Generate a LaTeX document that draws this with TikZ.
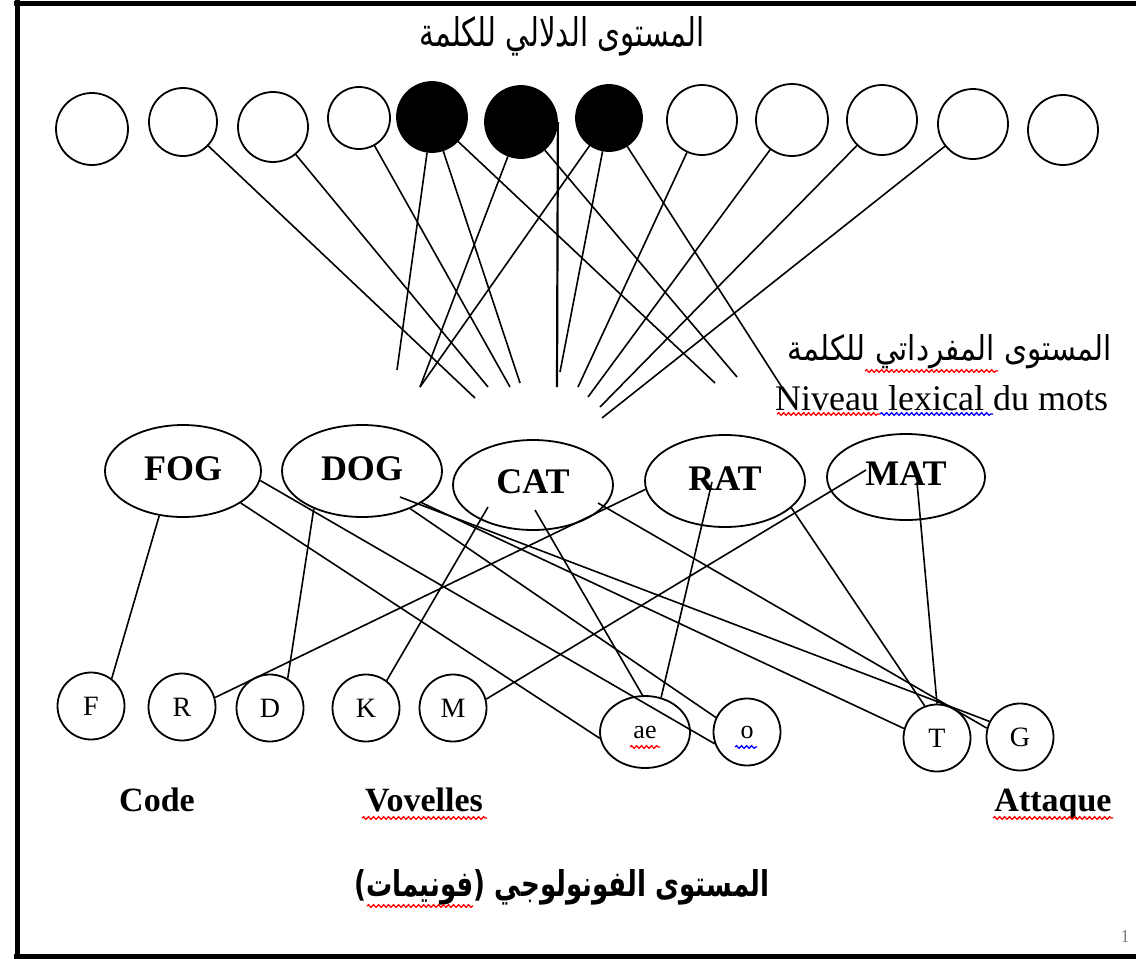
\documentclass[tikz,border=0pt]{standalone}
\usepackage{fontspec}
\setmainfont{Liberation Serif}
\newfontfamily\arabicfont[Script=Arabic]{DejaVu Sans}
\TeXXeTstate=1
\usetikzlibrary{shapes.geometric,decorations.pathmorphing}
\tikzset{
  semcircle/.style={circle, draw, line width=1.8pt, inner sep=0pt},
  semfill/.style={semcircle, fill=black},
  wordell/.style={ellipse, draw, line width=1.8pt, inner sep=0pt, font=\fontsize{36}{40}\selectfont\bfseries},
  phonc/.style={circle, draw, line width=1.8pt, inner sep=0pt, minimum size=67pt, font=\fontsize{28}{30}\selectfont},
  conn/.style={line width=1.6pt},
  framel/.style={line width=5pt},
  wavyred/.style={draw=red, line width=1.3pt, decorate, decoration={snake, amplitude=1.3pt, segment length=5pt}},
  wavyblue/.style={wavyred, draw=blue},
  catlabel/.style={anchor=base, font=\fontsize{34}{40}\selectfont\bfseries},
}
\begin{document}
\begin{tikzpicture}[x=1pt,y=-1pt]
\useasboundingbox (0,0) rectangle (1136,959);
\fill[white] (0,0) rectangle (1136,959);
% frame
\draw[framel] (17,0) -- (17,959);
\draw[framel] (14,3) -- (1136,3);
\draw[framel] (14,956) -- (1136,956);

% semantic level title
\node (tsem) at (562,36) {\resizebox{285pt}{30pt}{\arabicfont\beginR المستوى الدلالي للكلمة\endR}};

% semantic circles
\node[semcircle, minimum size=72pt] (c1) at (92,129) {};
\node[semcircle, minimum size=68pt] (c2) at (183,122) {};
\node[semcircle, minimum size=70pt] (c3) at (273,127) {};
\node[semcircle, minimum size=62pt] (c4) at (359,118) {};
\node[semfill, minimum size=70pt] (c5) at (432,117) {};
\node[semfill, minimum size=72pt] (c6) at (521,122) {};
\node[semfill, minimum size=66pt] (c7) at (609,118) {};
\node[semcircle, minimum size=70pt] (c8) at (702,120) {};
\node[semcircle, minimum size=72pt] (c9) at (792,120) {};
\node[semcircle, minimum size=70pt] (c10) at (882,120) {};
\node[semcircle, minimum size=70pt] (c11) at (973,124) {};
\node[semcircle, minimum size=70pt] (c12) at (1063,130) {};

% free ends of the semantic connectors
\coordinate (e1) at (475,398);
\coordinate (e2) at (488,387);
\coordinate (e3) at (510,387);
\coordinate (e4) at (397,370);
\coordinate (e5) at (520,383);
\coordinate (e6) at (715,383);
\coordinate (e7) at (420,387);
\coordinate (e8) at (557,387);
\coordinate (e9) at (737,377);
\coordinate (e10) at (560,372);
\coordinate (e11) at (785,392);
\coordinate (e12) at (578,387);
\coordinate (e13) at (588,397);
\coordinate (e14) at (600,407);
\coordinate (e15) at (602,418);

\draw[conn] (c2) -- (e1);
\draw[conn] (c3) -- (e2);
\draw[conn] (c4) -- (e3);
\draw[conn] (c5) -- (e4);
\draw[conn] (c5) -- (e5);
\draw[conn] (c5) -- (e6);
\draw[conn] (c6) -- (e7);
\draw[conn, line width=2.2pt] (c6.east) -- (e8);
\draw[conn] (c6) -- (e9);
\draw[conn] (c7) -- (e7);
\draw[conn] (c7) -- (e10);
\draw[conn] (c7) -- (e11);
\draw[conn] (c8) -- (e12);
\draw[conn] (c9) -- (e13);
\draw[conn] (c10) -- (e14);
\draw[conn] (c11) -- (e15);

% lexical level titles
\node (tlexar) at (950,352) {\resizebox{324pt}{26pt}{\arabicfont\beginR المستوى المفرداتي للكلمة\endR}};
\node[anchor=base west, font=\fontsize{36}{40}\selectfont, inner sep=0pt] (tlexfr) at (775,410) {Niveau lexical du mots};
\draw[wavyred] (865,371) -- (998,371);
\draw[wavyred] (777,414) -- (880,414);
\draw[wavyblue] (880,414) -- (993,414);

% lexical ellipses
\node[wordell, minimum width=156pt, minimum height=92pt] (fog) at (183,471) {\raisebox{5pt}{FOG}};
\node[wordell, minimum width=160pt, minimum height=92pt] (dog) at (362,471) {\raisebox{5pt}{DOG}};
\node[wordell, minimum width=160pt, minimum height=90pt] (cat) at (533,485) {\raisebox{6pt}{CAT}};
\node[wordell, minimum width=160pt, minimum height=92pt] (rat) at (725,481) {\raisebox{4pt}{RAT}};
\node[wordell, minimum width=158pt, minimum height=86pt] (mat) at (906,477) {\raisebox{6pt}{MAT}};

% phoneme circles
\node[phonc] (pF) at (91,706) {F};
\node[phonc] (pR) at (182,707) {R};
\node[phonc] (pD) at (270,708) {D};
\node[phonc] (pK) at (366,708) {K};
\node[phonc] (pM) at (453,708) {M};
\node[ellipse, draw, line width=1.8pt, inner sep=0pt, minimum width=90pt, minimum height=72pt, font=\fontsize{26}{30}\selectfont] (pae) at (645,732) {\raisebox{-5pt}{ae}};
\node[phonc, font=\fontsize{26}{30}\selectfont] (po) at (747,732) {\raisebox{-4pt}{o}};
\node[phonc] (pT) at (937,738) {T};
\node[phonc] (pG) at (1020,737) {G};
\draw[wavyred] (630,747) -- (660,747);
\draw[wavyblue] (735,747) -- (757,747);

% inner start points of lexical connectors
\coordinate (sdog1) at (400,497);
\coordinate (scat1) at (598,503);
\coordinate (scat2) at (488,507);
\coordinate (scat3) at (535,510);
\coordinate (srat1) at (712,482);
\coordinate (smat1) at (866,470);
\coordinate (smat2) at (917,482);

% lexical -> phoneme connectors
\draw[conn] (fog.-118) -- (pF.53);
\draw[conn] (fog.-7) -- (po.-160);
\draw[conn] (fog.-29) -- (pae.-172);
\draw[conn] (dog.-142) -- (pD.59);
\draw[conn] (sdog1) -- (pG.153);
\draw[conn] (dog.-38) -- (po.155);
\draw[conn] (dog.-28) -- (pT.164);
\draw[conn] (scat1) -- (pG.165);
\draw[conn] (scat2) -- (pK.53);
\draw[conn] (scat3) -- (pae.94);
\draw[conn] (rat.-174) -- (pR.16);
\draw[conn] (srat1) -- (pae.65);
\draw[conn] (rat.-22) -- (pT.111);
\draw[conn] (smat1) -- (pM.15);
\draw[conn] (smat2) -- (pT.90);

% phonological level labels
\node[catlabel] (lcode) at (157,811) {Code};
\node[catlabel] (lvov) at (424,811) {Vovelles};
\node[catlabel] (latt) at (1053,811) {Attaque};
\draw[wavyred] (362,818) -- (487,818);
\draw[wavyred] (993,818) -- (1113,818);

\node (tphon) at (562,887) {\resizebox{415pt}{27pt}{\arabicfont\bfseries\beginR المستوى الفونولوجي (فونيمات)\endR}};
\draw[wavyred] (367,906) -- (473,906);

\node[text=gray, font=\fontsize{18}{18}\selectfont] (pgnum) at (1125,937) {1};
\end{tikzpicture}
\end{document}
